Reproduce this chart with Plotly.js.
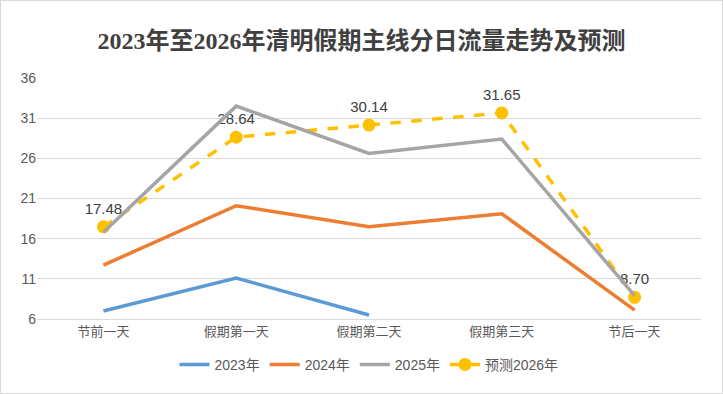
<!DOCTYPE html>
<html>
<head>
<meta charset="utf-8">
<script src="https://cdn.plot.ly/plotly-3.0.1.min.js"></script>
<style>
html,body{margin:0;padding:0;background:#fff;}
#chart{width:723px;height:394px;box-sizing:border-box;border:1px solid #d9d9d9;}
</style>
</head>
<body>
<div id="chart"></div>
<script>
const categories = ["节前一天", "假期第一天", "假期第二天", "假期第三天", "节后一天"];
const y2023 = [7.0, 11.1, 6.5, null, null];
const y2024 = [12.7, 20.1, 17.5, 19.1, 7.1];
const y2025 = [16.8, 32.5, 26.6, 28.4, 8.9];
const y2026 = [17.48, 28.64, 30.14, 31.65, 8.70];
const names = ["2023年", "2024年", "2025年", "预测2026年"];
const colors = ["#5B9BD5", "#ED7D31", "#A5A5A5", "#FFC000"];

const traces = [
  {x: categories, y: y2023, name: names[0], mode: "lines", line: {color: colors[0], width: 3.5}, legendrank: 1},
  {x: categories, y: y2024, name: names[1], mode: "lines", line: {color: colors[1], width: 3.5}, legendrank: 2},
  {x: categories, y: y2026, name: names[3], mode: "lines+markers+text",
   line: {color: colors[3], width: 3.5, dash: "dash"},
   marker: {color: colors[3], size: 13},
   text: y2026.map(v => v.toFixed(2)), textposition: "top center",
   textfont: {size: 15, color: "#404040", family: "Liberation Sans, Noto Sans CJK SC"},
   legendrank: 4},
  {x: categories, y: y2025, name: names[2], mode: "lines", line: {color: colors[2], width: 3.5}, legendrank: 3}
];

const layout = {
  width: 721, height: 392,
  margin: {l: 36, r: 21, t: 77, b: 72},
  paper_bgcolor: "#fff", plot_bgcolor: "#fff",
  title: {text: "<b>2023年至2026年清明假期主线分日流量走势及预测</b>",
    font: {family: "Liberation Serif, Noto Sans CJK SC", size: 24, color: "#404040"},
    x: 0.5, xanchor: "center", y: 0.9, yanchor: "middle"},
  xaxis: {type: "category", range: [-0.5, 4.5], showgrid: false, zeroline: false,
    showline: true, linecolor: "#d9d9d9", linewidth: 1, ticks: "",
    tickfont: {family: "Noto Sans CJK SC", size: 13, color: "#595959"}},
  yaxis: {range: [6, 36], tickvals: [6, 11, 16, 21, 26, 31, 36], showgrid: true,
    gridcolor: "#d9d9d9", gridwidth: 1, zeroline: false, showline: false, ticks: "",
    tickfont: {family: "Liberation Sans, Noto Sans CJK SC", size: 14, color: "#595959"}},
  showlegend: true,
  legend: {orientation: "h", x: 0.5, xanchor: "center", y: -0.19, yanchor: "middle",
    font: {family: "Liberation Sans, Noto Sans CJK SC", size: 14, color: "#595959"},
    itemwidth: 30, tracegroupgap: 0}
};

Plotly.newPlot("chart", traces, layout, {displayModeBar: false, staticPlot: true});
</script>
</body>
</html>
